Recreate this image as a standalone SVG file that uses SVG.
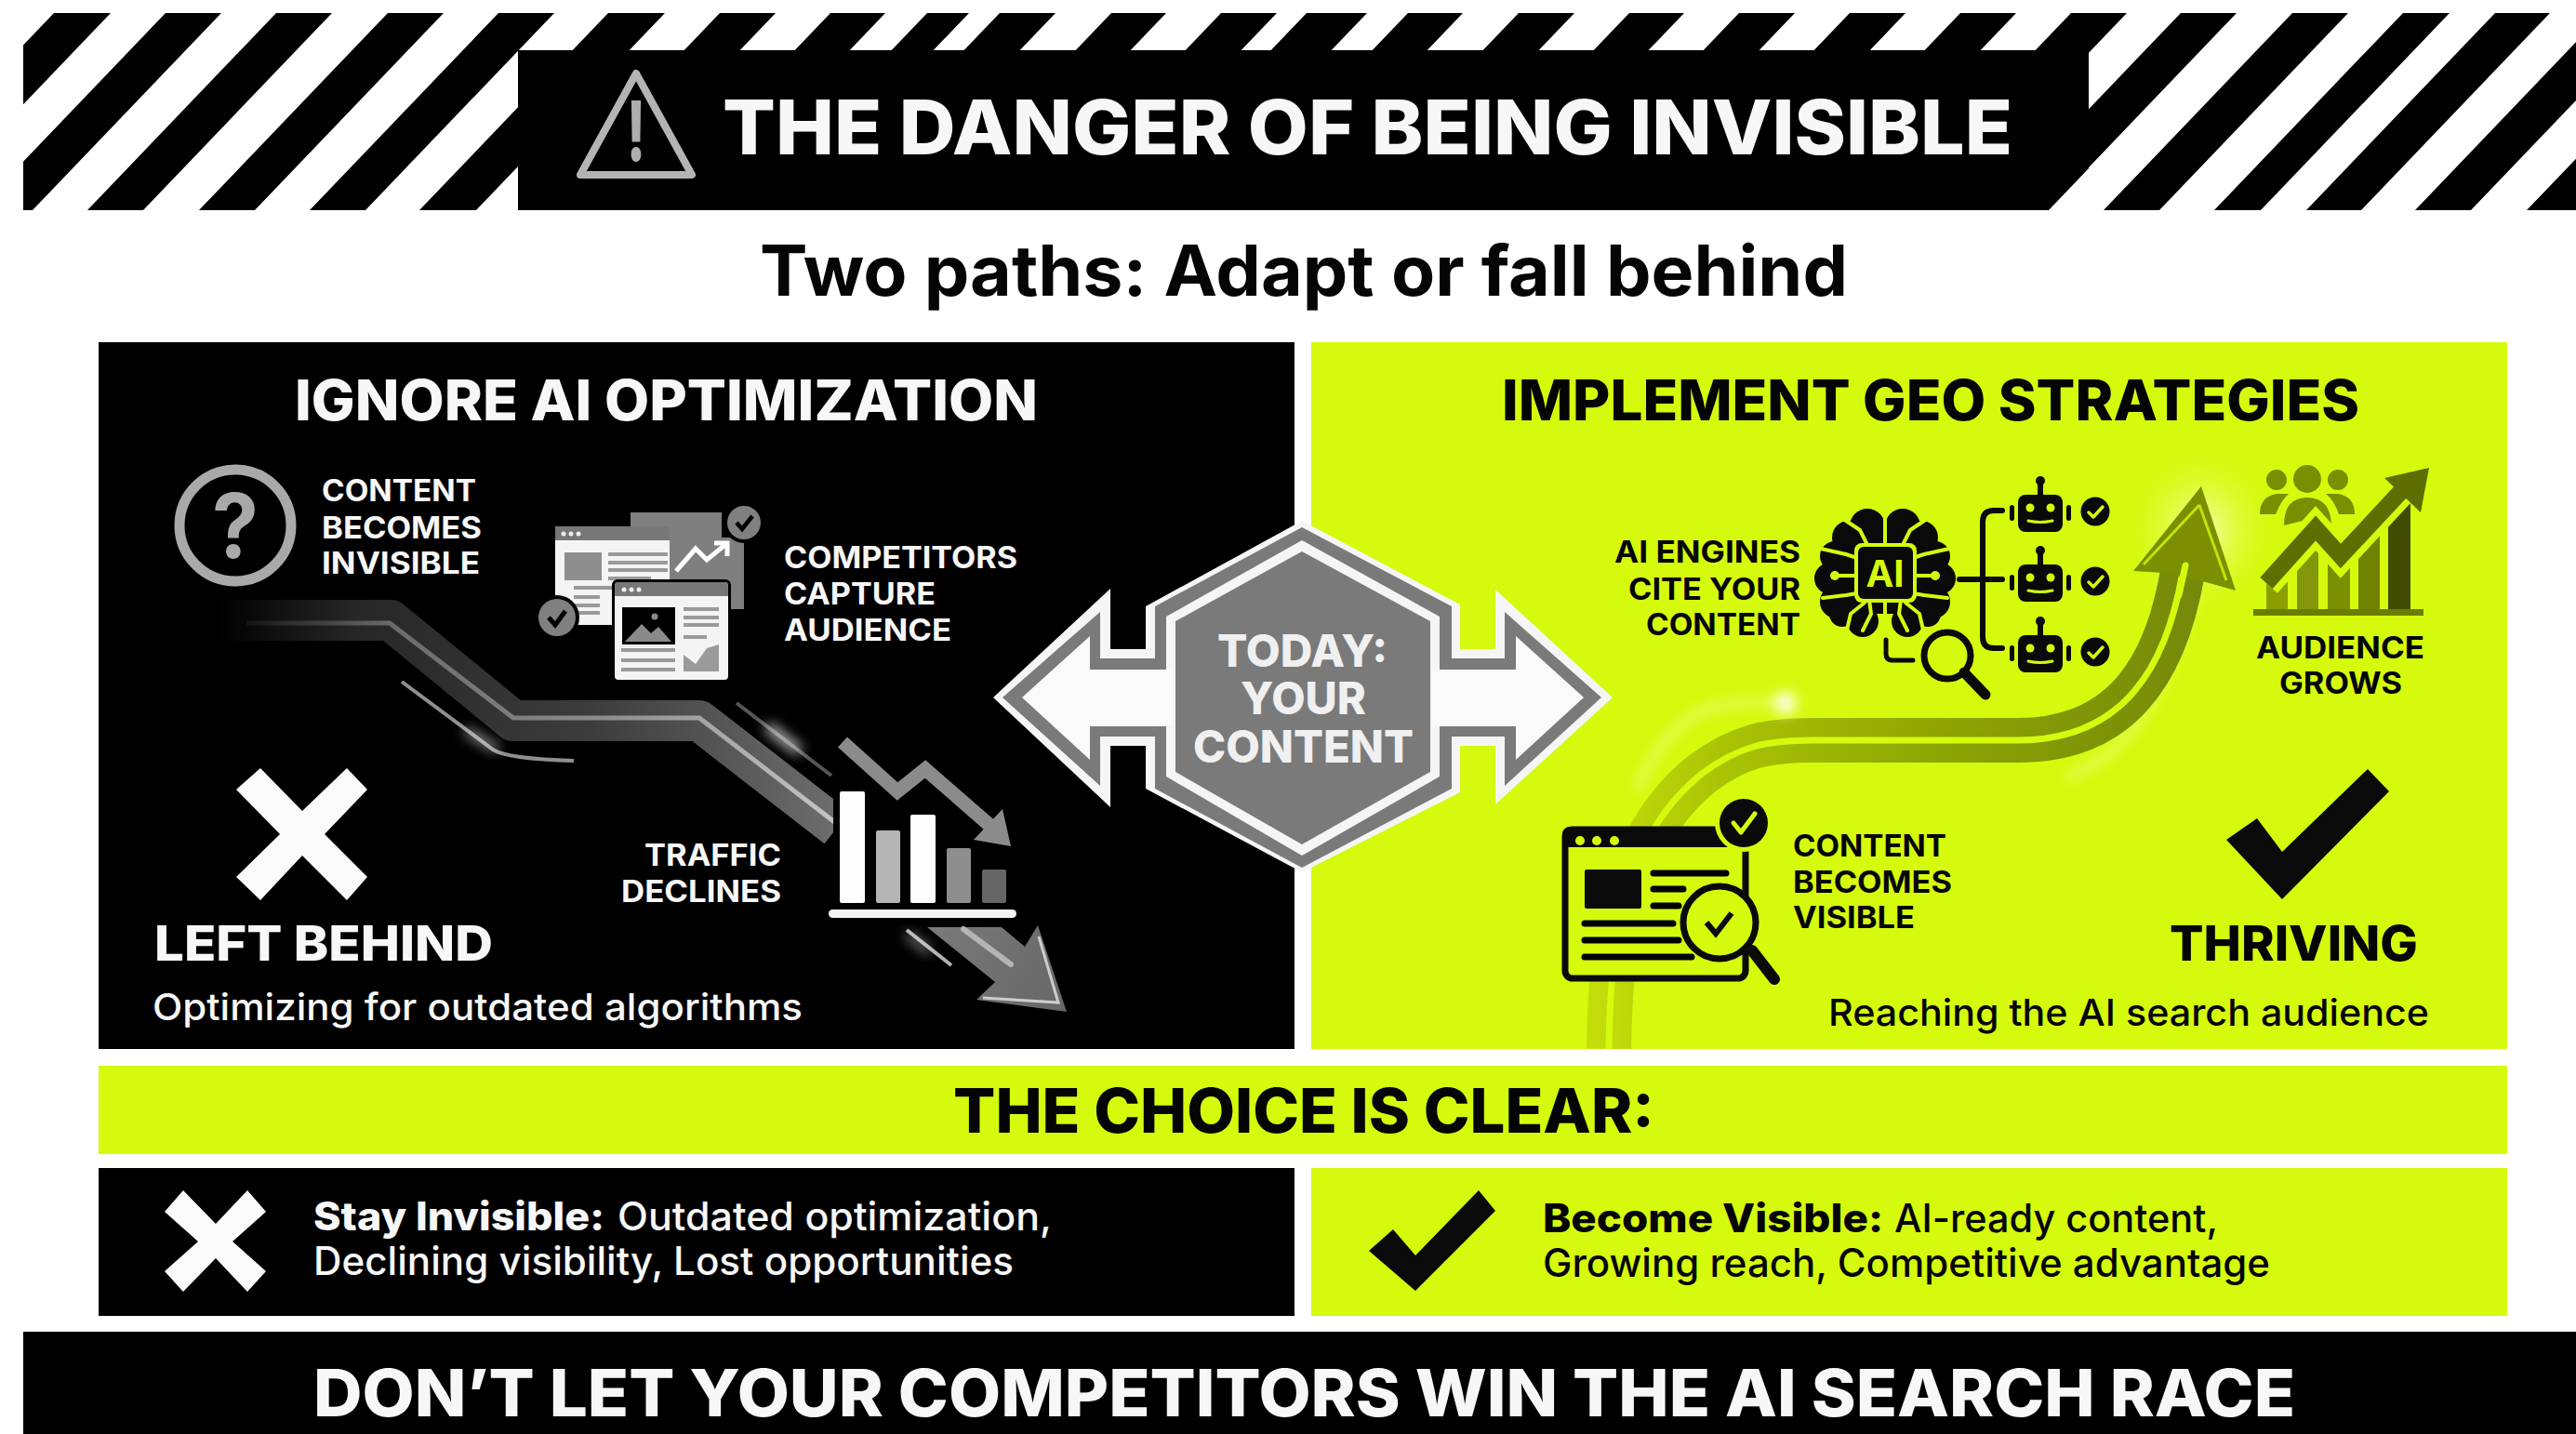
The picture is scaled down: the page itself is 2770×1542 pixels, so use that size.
<svg xmlns="http://www.w3.org/2000/svg" xmlns:xlink="http://www.w3.org/1999/xlink" width="2770" height="1542" viewBox="0 0 2770 1542">
<style>
text{font-family:"Inter","Liberation Sans",sans-serif;font-weight:700}
.w{fill:#f7f7f7}.k{fill:#050505}
.h{font-size:60px;font-weight:800}
.l{font-size:32px;font-weight:700}
.s{font-size:40px;font-weight:500}
.m{font-size:52px;font-weight:800}
.t{font-size:42px;font-weight:500}
.b{font-weight:800}
.c{font-size:48px;font-weight:800;fill:#f0f0f0}
.lime{fill:#d5fa0d}.blk{fill:#000}
.gl{stroke:#000;stroke-width:7;fill:none;stroke-linecap:round}
.pl{stroke:#9a9a9a;stroke-width:4;fill:none}
.dl{stroke:#a8a8a8;stroke-width:4;fill:none}
.tree{fill:none;stroke:#0a0a0a;stroke-width:6;stroke-linecap:round;stroke-linejoin:round}
.lm{fill:none;stroke:#d5fa0d;stroke-linecap:round;stroke-linejoin:round}
.ol{fill:#7b8f00}
</style>
<defs>
<clipPath id="band"><rect x="25" y="14" width="2745" height="212"/></clipPath>
<clipPath id="lclip"><rect x="106" y="368" width="790" height="760"/></clipPath>
<clipPath id="rclip"><rect x="1410" y="368" width="1286" height="760"/></clipPath>
<filter id="blur" x="-50%" y="-50%" width="200%" height="200%"><feGaussianBlur stdDeviation="7"/></filter>
<linearGradient id="gr" gradientUnits="userSpaceOnUse" x1="235" y1="0" x2="896" y2="0"><stop offset="0" stop-color="#000"/><stop offset=".22" stop-color="#262626"/><stop offset=".6" stop-color="#3c3c3c"/><stop offset="1" stop-color="#6c6c6c"/></linearGradient>
<linearGradient id="gc" gradientUnits="userSpaceOnUse" x1="260" y1="0" x2="896" y2="0"><stop offset="0" stop-color="#111"/><stop offset=".25" stop-color="#6a6a6a"/><stop offset=".6" stop-color="#8a8a8a"/><stop offset="1" stop-color="#c4c4c4"/></linearGradient>
<linearGradient id="ga" gradientUnits="userSpaceOnUse" x1="997" y1="997" x2="1147" y2="1088"><stop offset="0" stop-color="#7a7a7a"/><stop offset="1" stop-color="#666"/></linearGradient>
<linearGradient id="gs" gradientUnits="userSpaceOnUse" x1="1720" y1="0" x2="2360" y2="0"><stop offset="0" stop-color="#c3dd0b"/><stop offset=".2" stop-color="#aac405"/><stop offset=".55" stop-color="#8fa602"/><stop offset="1" stop-color="#76890a"/></linearGradient>
<radialGradient id="gw"><stop offset="0" stop-color="#f6ffb0"/><stop offset="1" stop-color="#d5fa0d" stop-opacity="0"/></radialGradient>
<g id="robot">
<rect x="2170" y="532" width="48" height="40" rx="8" fill="#0a0a0a"/>
<path d="M2194 520V532" class="tree" stroke-width="4"/>
<circle cx="2194" cy="517" r="5" fill="#0a0a0a"/>
<rect x="2161" y="543" width="5" height="17" rx="2.5" fill="#0a0a0a"/><rect x="2222" y="543" width="5" height="17" rx="2.5" fill="#0a0a0a"/>
<circle cx="2183" cy="546" r="4.5" fill="#d5fa0d"/><circle cx="2205" cy="546" r="4.5" fill="#d5fa0d"/>
<path d="M2181 560Q2194 563 2207 560" class="lm" stroke-width="3"/>
<circle cx="2253" cy="550" r="15.5" fill="#0a0a0a"/>
<path d="M2246 551L2251 556L2261 545" class="lm" stroke-width="3.5"/>
</g>
</defs>

<rect width="2770" height="1542" fill="#fff"/>

<g id="header">
<g clip-path="url(#band)">
<path id="stripes" d="M-42 14h60l-203 212h-60zM58 14h61l-203 212h-61zM178 14h60l-203 212h-60zM297 14h60l-203 212h-60zM417 14h60l-203 212h-60zM536 14h60l-203 212h-60zM654 14h61l-203 212h-61zM774 14h60l-203 212h-60zM893 14h59l-203 212h-59zM997 14h45l-203 212h-45zM1075 14h60l-203 212h-60zM1195 14h59l-203 212h-59zM1313 14h60l-203 212h-60zM1405 14h65l-203 212h-65zM1514 14h59l-203 212h-59zM1633 14h60l-203 212h-60zM1752 14h59l-203 212h-59zM1870 14h60l-203 212h-60zM1989 14h60l-203 212h-60zM2108 14h60l-203 212h-60zM2227 14h60l-203 212h-60zM2345 14h60l-203 212h-60zM2465 14h60l-203 212h-60zM2584 14h50l-203 212h-50zM2683 14h59l-203 212h-59zM2800 14h60l-203 212h-60zM2920 14h60l-203 212h-60z" fill="#000"/>
<polygon points="557,54 2246,54 2246,181 2203,226 557,226" fill="#000"/>
</g>
<path d="M684 79L744 188H624Z" fill="none" stroke="#b4b4b4" stroke-width="8" stroke-linejoin="round"/>
<text x="684" y="173" text-anchor="middle" style="font-size:90px;font-weight:800;fill:#aeaeae" textLength="20" lengthAdjust="spacingAndGlyphs">!</text>
<text x="777" y="166" class="w" style="font-size:81px;font-weight:800" textLength="1387" lengthAdjust="spacingAndGlyphs">THE DANGER OF BEING INVISIBLE</text>
</g>

<text id="subtitle" x="817" y="318" class="k" style="font-size:75px;font-weight:700" textLength="1170" lengthAdjust="spacingAndGlyphs">Two paths: Adapt or fall behind</text>

<g id="left-panel">
<rect x="106" y="368" width="1286" height="760" fill="#000"/>
<text x="317" y="452" class="w h" textLength="799" lengthAdjust="spacingAndGlyphs">IGNORE AI OPTIMIZATION</text>
<g id="invisible-icon">
<circle cx="253" cy="565" r="60" fill="none" stroke="#a9a9a9" stroke-width="11"/>
<text x="253" y="600" text-anchor="middle" style="font-size:96px;font-weight:700;fill:#a9a9a9" textLength="50" lengthAdjust="spacingAndGlyphs">?</text>
</g>
<text x="346" y="539" class="w l" textLength="166" lengthAdjust="spacingAndGlyphs">CONTENT</text>
<text x="346" y="579" class="w l" textLength="172" lengthAdjust="spacingAndGlyphs">BECOMES</text>
<text x="346" y="617" class="w l" textLength="170" lengthAdjust="spacingAndGlyphs">INVISIBLE</text>
<g id="competitor-icon">
<path d="M678 551H776V578H800V655H678Z" fill="#7f7f7f"/>
<path d="M727 614L748 590L760 602L782 584M768 584H782V598" fill="none" stroke="#fff" stroke-width="5"/>
<circle cx="800" cy="562" r="22" fill="#000"/><circle cx="800" cy="562" r="18" fill="#808080"/>
<path d="M792 562L798 569L809 555" fill="none" stroke="#000" stroke-width="4.5"/>
<rect x="597" y="566" width="123" height="106" rx="3" fill="#f4f4f4"/>
<rect x="597" y="566" width="123" height="15" fill="#777"/>
<circle cx="606" cy="574" r="2.5" fill="#eee"/><circle cx="614" cy="574" r="2.5" fill="#eee"/><circle cx="622" cy="574" r="2.5" fill="#eee"/>
<rect x="607" y="594" width="40" height="30" fill="#8e8e8e"/>
<path d="M654 596H718M654 605H718M654 613H718M654 622H700M617 632H700M617 642H645M617 651H645M617 659H645" class="pl"/>
<circle cx="599" cy="664" r="24" fill="#000"/><circle cx="599" cy="664" r="20" fill="#808080"/>
<path d="M590 664L597 672L608 657" fill="none" stroke="#000" stroke-width="5"/>
<rect x="658" y="623" width="128" height="112" rx="6" fill="#000"/>
<rect x="661" y="626" width="122" height="105" rx="4" fill="#f4f4f4"/>
<path d="M661 630a4 4 0 0 1 4-4h114a4 4 0 0 1 4 4v11H661Z" fill="#777"/>
<circle cx="671" cy="634" r="2.5" fill="#eee"/><circle cx="679" cy="634" r="2.5" fill="#eee"/><circle cx="687" cy="634" r="2.5" fill="#eee"/>
<rect x="669" y="653" width="57" height="40" fill="#000"/>
<path d="M672 690L690 671L700 681L708 674L722 690Z" fill="#8a8a8a"/><circle cx="704" cy="663" r="3.5" fill="#8a8a8a"/>
<path d="M735 655H773M735 664H773M735 672H773M735 685H760M668 699H726M668 710H726M668 720H726" class="pl"/>
<path d="M735 722V704L748 714L760 697L773 693V722Z" fill="#9a9a9a"/>
</g>
<text x="843" y="611" class="w l" textLength="251" lengthAdjust="spacingAndGlyphs">COMPETITORS</text>
<text x="843" y="650" class="w l" textLength="163" lengthAdjust="spacingAndGlyphs">CAPTURE</text>
<text x="843" y="689" class="w l" textLength="180" lengthAdjust="spacingAndGlyphs">AUDIENCE</text>
<text x="693" y="931" class="w l" textLength="147" lengthAdjust="spacingAndGlyphs">TRAFFIC</text>
<text x="668" y="970" class="w l" textLength="172" lengthAdjust="spacingAndGlyphs">DECLINES</text>
<polygon id="x-mark" points="254,849 280,826 325,872 373,826 395,849 349,897 395,943 373,968 325,920 280,968 254,943 301,897" fill="#fafafa"/>
<text x="166" y="1033" class="w m" textLength="364" lengthAdjust="spacingAndGlyphs">LEFT BEHIND</text>
<text x="164" y="1097" class="w s" textLength="699" lengthAdjust="spacingAndGlyphs">Optimizing for outdated algorithms</text>
</g>

<g id="right-panel">
<rect x="1410" y="368" width="1286" height="760" fill="#d5fa0d"/>
<text x="1615" y="452" class="k h" textLength="922" lengthAdjust="spacingAndGlyphs">IMPLEMENT GEO STRATEGIES</text>
<text x="1736" y="605" class="k l" textLength="200" lengthAdjust="spacingAndGlyphs">AI ENGINES</text>
<text x="1751" y="645" class="k l" textLength="185" lengthAdjust="spacingAndGlyphs">CITE YOUR</text>
<text x="1770" y="683" class="k l" textLength="166" lengthAdjust="spacingAndGlyphs">CONTENT</text>
<text x="2426" y="708" class="k l" textLength="181" lengthAdjust="spacingAndGlyphs">AUDIENCE</text>
<text x="2451" y="746" class="k l" textLength="132" lengthAdjust="spacingAndGlyphs">GROWS</text>
<text x="1928" y="921" class="k l" textLength="165" lengthAdjust="spacingAndGlyphs">CONTENT</text>
<text x="1928" y="960" class="k l" textLength="171" lengthAdjust="spacingAndGlyphs">BECOMES</text>
<text x="1928" y="998" class="k l" textLength="131" lengthAdjust="spacingAndGlyphs">VISIBLE</text>
<polygon id="check-mark" points="2394,903 2427,880 2454,916 2546,827 2569,851 2454,967" fill="#0a0a0a"/>
<text x="2333" y="1033" class="k m" textLength="267" lengthAdjust="spacingAndGlyphs">THRIVING</text>
<text x="1966" y="1103" class="k s" textLength="646" lengthAdjust="spacingAndGlyphs">Reaching the AI search audience</text>
</g>

<g id="connectors">
<g id="decline-path" clip-path="url(#lclip)">
<path d="M235 667H420L552 775H752L900 890" fill="none" stroke="url(#gr)" stroke-width="44" stroke-linejoin="round"/>
<path d="M265 670H419L552 772H752L900 886" fill="none" stroke="url(#gc)" stroke-width="5"/>
<path d="M432 733L530 806Q545 816 617 818" fill="none" stroke="#8f8f8f" stroke-width="4"/>
<path d="M500 785L535 806" fill="none" stroke="#fff" stroke-width="5" filter="url(#blur)"/>
<path d="M792 756L894 834" fill="none" stroke="#555" stroke-width="4"/>
<path d="M825 781L860 808" fill="none" stroke="#fff" stroke-width="8" filter="url(#blur)"/>
</g>
<g id="decline-arrow">
<polygon points="997,997 1077,997 1102,1018 1116,995 1147,1088 1050,1075 1070,1056" fill="url(#ga)"/>
<path d="M1036 999L1087 1037" fill="none" stroke="#b4b4b4" stroke-width="6" stroke-linecap="round"/>
<path d="M1117 1007L1138 1078L1057 1073" fill="none" stroke="#cdcdcd" stroke-width="3"/>
<path d="M975 1000L1023 1038" fill="none" stroke="#b0b0b0" stroke-width="4"/>
<path d="M975 1004L1000 1024" fill="none" stroke="#fff" stroke-width="6" filter="url(#blur)" opacity=".7"/>
</g>
<g id="growth-path" clip-path="url(#rclip)">
<ellipse cx="2367" cy="570" rx="85" ry="95" fill="url(#gw)"/>
<path d="M1761 849Q1790 775 1845 760Q1885 752 1920 756" fill="none" stroke="#eeff90" stroke-width="5" filter="url(#blur)"/>
<path d="M2221 836Q2290 815 2330 720Q2350 670 2360 640" fill="none" stroke="#eeff90" stroke-width="5" filter="url(#blur)"/>
<path d="M1730 1128C1732 1010 1745 900 1830 832C1870 802 1900 796 1950 796L2170 796C2285 796 2330 715 2347 615" fill="none" stroke="url(#gs)" stroke-width="48"/>
<path d="M1730 1128C1732 1010 1745 900 1830 832C1870 802 1900 796 1950 796L2170 796C2285 796 2330 715 2347 615" fill="none" stroke="#d5fa0d" stroke-width="7" stroke-linecap="round"/>
<polygon points="2367,523 2404,635 2372,626 2327,616 2294,614" fill="#7b8f00"/>
<path d="M2365 543L2394 624M2365 543L2305 607" fill="none" stroke="#c4e20a" stroke-width="3"/>
<path d="M2350 608L2343 640" class="lm" stroke-width="7"/>
<circle cx="1920" cy="756" r="12" fill="#fbffe0" filter="url(#blur)"/>
</g>
</g>

<g id="chart-icon">
<rect x="903" y="851" width="27" height="120" rx="2" fill="#fdfdfd"/>
<rect x="942" y="893" width="26" height="78" rx="2" fill="#b4b4b4"/>
<rect x="979" y="876" width="27" height="95" rx="2" fill="#fdfdfd"/>
<rect x="1018" y="912" width="26" height="59" rx="2" fill="#8e8e8e"/>
<rect x="1056" y="935" width="26" height="36" rx="2" fill="#666"/>
<rect x="891" y="978" width="202" height="9" rx="4.5" fill="#f4f4f4"/>
<path d="M906 798L965 851L995 827L1066 889" fill="none" stroke="#8b8b8b" stroke-width="15"/>
<polygon points="1078,870 1087,910 1047,903" fill="#8b8b8b"/>
</g>

<g id="center-node">
<polygon points="1400,560 1570,650 1570,698 1608,698 1608,634 1734,750 1608,865 1608,802 1570,802 1570,852 1400,938 1232,848 1232,802 1194,802 1194,868 1068,750 1194,633 1194,698 1232,698 1232,652" fill="#f5f5f5"/>
<polygon points="1400,567 1561,652 1561,708 1618,708 1618,658 1722,750 1618,845 1618,792 1561,792 1561,848 1400,933 1242,848 1242,792 1183,792 1183,845 1078,750 1183,658 1183,708 1242,708 1242,652" fill="#7a7a7a"/>
<polygon points="1400,581 1548,663 1548,835 1400,920 1254,835 1254,663" fill="#f5f5f5"/>
<polygon points="1630,684 1703,750 1630,817 1630,781 1540,781 1540,720 1630,720" fill="#fafafa"/>
<polygon points="1172,684 1099,750 1172,817 1172,781 1260,781 1260,720 1172,720" fill="#fafafa"/>
<polygon points="1400,593 1538,668 1538,830 1400,908 1264,830 1264,668" fill="#7a7a7a"/>
<text x="1309" y="717" class="c" textLength="183" lengthAdjust="spacingAndGlyphs">TODAY:</text>
<text x="1334" y="768" class="c" textLength="135" lengthAdjust="spacingAndGlyphs">YOUR</text>
<text x="1283" y="820" class="c" textLength="237" lengthAdjust="spacingAndGlyphs">CONTENT</text>
</g>

<g id="brain-icon">
<g fill="#0a0a0a">
<circle cx="2008" cy="566" r="19"/><circle cx="1988" cy="578" r="18"/><circle cx="1973" cy="598" r="16"/><circle cx="1968" cy="622" r="17"/><circle cx="1975" cy="647" r="18"/><circle cx="1981" cy="660" r="14"/><circle cx="2003" cy="668" r="17"/>
<circle cx="2046" cy="566" r="19"/><circle cx="2066" cy="578" r="18"/><circle cx="2081" cy="598" r="16"/><circle cx="2086" cy="622" r="17"/><circle cx="2079" cy="647" r="18"/><circle cx="2073" cy="660" r="14"/><circle cx="2051" cy="668" r="17"/>
<rect x="1975" y="570" width="104" height="90"/>
</g>
<path d="M2027 545V590M2027 640V685M1979 556L2000 570L2010 590M2075 556L2054 570L2044 590M1958 590L1985 596L1997 600M2096 590L2069 596L2057 600M1972 619H1997M2082 619H2057M1960 643L1985 640L1997 638M2094 643L2069 640L2057 638M1985 682L1990 660L2005 648M2069 682L2064 660L2049 648M2003 678L2012 660L2010 645M2051 678L2042 660L2044 645" class="lm" stroke-width="4"/>
<circle cx="1973" cy="619" r="5" fill="#d5fa0d"/><circle cx="2081" cy="619" r="5" fill="#d5fa0d"/>
<rect x="1994" y="584" width="67" height="64" rx="8" fill="#d5fa0d"/>
<rect x="1998" y="588" width="59" height="56" rx="6" fill="#0a0a0a"/>
<text x="2027" y="631" text-anchor="middle" style="font-size:40px;font-weight:700;fill:#d5fa0d">AI</text>
<path d="M2107 623H2153M2153 549H2144Q2132 549 2132 561V685Q2132 697 2144 697H2153" class="tree"/>
<use href="#robot"/><use href="#robot" y="75"/><use href="#robot" y="151"/>
<circle cx="2094" cy="705" r="25" fill="none" stroke="#0a0a0a" stroke-width="7"/>
<path d="M2112 723L2135 747" class="tree" style="stroke-width:11"/>
<path d="M2028 688V703Q2028 710 2035 710H2057" class="tree" style="stroke-width:5"/>
</g>

<g id="audience-icon" fill="#7a8e00">
<circle cx="2448" cy="516" r="11"/><circle cx="2481" cy="515" r="15"/><circle cx="2514" cy="516" r="11"/>
<path d="M2430 553Q2430 534 2448 531L2461 531Q2453 538 2447 553Z"/>
<path d="M2532 553Q2532 534 2514 531L2501 531Q2510 538 2515 553Z"/>
<path d="M2456 565Q2456 535 2481 535Q2506 535 2507 565L2476 560Z"/>
<rect x="2437" y="620" width="23" height="38" fill="#8b9e00"/>
<rect x="2470" y="590" width="23" height="68" fill="#84970a"/>
<rect x="2503" y="600" width="24" height="58" fill="#7c8f00"/>
<rect x="2536" y="570" width="23" height="88" fill="#718200"/>
<rect x="2568" y="540" width="24" height="118" fill="#424c00"/>
<path d="M2437 627L2490 568L2517 598L2585 525" fill="none" stroke="#d5fa0d" stroke-width="32"/>
<path d="M2437 627L2490 568L2517 598L2585 525" fill="none" stroke="#5e6e00" stroke-width="18"/>
<polygon points="2612,503 2564,514 2603,551" fill="#5e6e00"/>
<rect x="2423" y="655" width="183" height="7" fill="#6b7c00"/>
</g>

<g id="visible-icon">
<rect x="1683" y="892" width="194" height="160" rx="8" fill="#d5fa0d" stroke="#0a0a0a" stroke-width="7"/>
<path d="M1680 897a8 8 0 0 1 8-8h184a8 8 0 0 1 8 8v14H1680Z" fill="#0a0a0a"/>
<circle cx="1699" cy="904" r="5" fill="#d5fa0d"/><circle cx="1717" cy="904" r="5" fill="#d5fa0d"/><circle cx="1736" cy="904" r="5" fill="#d5fa0d"/>
<rect x="1704" y="935" width="61" height="42" rx="2" fill="#0a0a0a"/>
<path d="M1778 939H1856M1778 956H1810M1778 974H1805M1704 993H1799M1704 1011H1805M1704 1029H1819" class="gl"/>
<circle cx="1875" cy="885" r="31" fill="#d5fa0d"/><circle cx="1875" cy="885" r="26" fill="#0a0a0a"/>
<path d="M1864 885L1872 895L1887 875" class="lm" stroke-width="5"/>
<circle cx="1849" cy="992" r="39" fill="#d5fa0d" stroke="#0a0a0a" stroke-width="7"/>
<path d="M1835 992L1845 1004L1862 982" fill="none" stroke="#0a0a0a" stroke-width="6"/>
<path d="M1884 1022L1908 1053" fill="none" stroke="#0a0a0a" stroke-width="12" stroke-linecap="round"/>
</g>

<rect id="choice" x="106" y="1146" width="2590" height="95" fill="#d5fa0d"/>
<text x="1025" y="1218" class="k" style="font-size:66px;font-weight:800" textLength="754" lengthAdjust="spacingAndGlyphs">THE CHOICE IS CLEAR:</text>

<g id="stay-invisible">
<rect x="106" y="1256" width="1286" height="159" fill="#000"/>
<polygon points="177,1303 197,1280 232,1316 266,1280 286,1303 250,1335 286,1367 266,1389 232,1353 197,1389 177,1367 213,1335" fill="#fafafa"/>
<text x="337" y="1323" class="w t b" textLength="313" lengthAdjust="spacingAndGlyphs">Stay Invisible:</text>
<text x="664" y="1323" class="w t" textLength="467" lengthAdjust="spacingAndGlyphs">Outdated optimization,</text>
<text x="337" y="1371" class="w t" textLength="753" lengthAdjust="spacingAndGlyphs">Declining visibility, Lost opportunities</text>
</g>

<g id="become-visible">
<rect x="1410" y="1256" width="1286" height="159" fill="#d5fa0d"/>
<polygon points="1472,1345 1498,1322 1522,1350 1590,1280 1608,1302 1522,1388" fill="#0a0a0a"/>
<text x="1659" y="1325" class="k t b" textLength="366" lengthAdjust="spacingAndGlyphs">Become Visible:</text>
<text x="2037" y="1325" class="k t" textLength="348" lengthAdjust="spacingAndGlyphs">AI-ready content,</text>
<text x="1659" y="1373" class="k t" textLength="782" lengthAdjust="spacingAndGlyphs">Growing reach, Competitive advantage</text>
</g>

<g id="footer">
<rect x="25" y="1432" width="2745" height="110" fill="#000"/>
<text x="337" y="1523" class="w" style="font-size:70px;font-weight:800" textLength="2131" lengthAdjust="spacingAndGlyphs">DON’T LET YOUR COMPETITORS WIN THE AI SEARCH RACE</text>
</g>
</svg>
